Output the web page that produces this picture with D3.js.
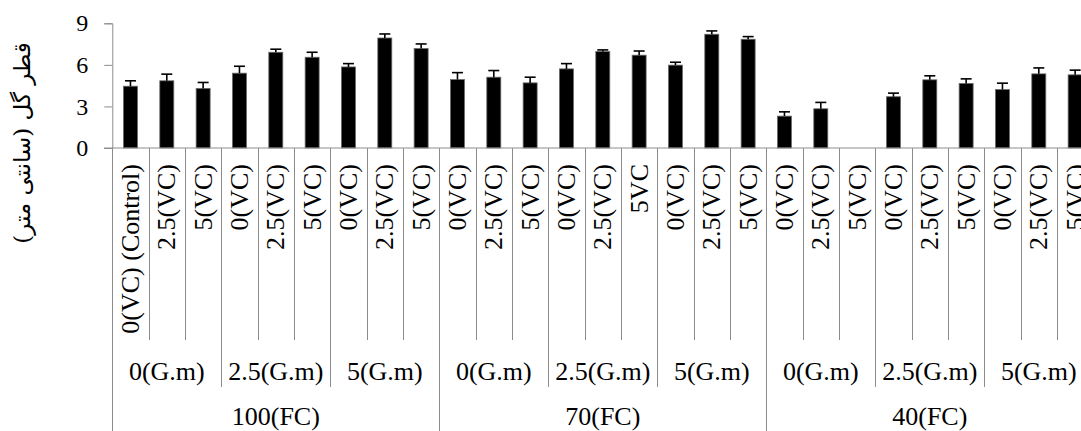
<!DOCTYPE html>
<html><head><meta charset="utf-8">
<script src="https://cdn.jsdelivr.net/npm/d3@7"></script>
<style>body{margin:0;background:#fff}svg{display:block}</style>
</head><body>
<script>
const fcLevels = ["100(FC)","70(FC)","40(FC)"];
const gmLevels = ["0(G.m)","2.5(G.m)","5(G.m)"];
const vcLabels = [
 "0(VC) (Control)","2.5(VC)","5(VC)","0(VC)","2.5(VC)","5(VC)","0(VC)","2.5(VC)","5(VC)",
 "0(VC)","2.5(VC)","5(VC)","0(VC)","2.5(VC)","5VC","0(VC)","2.5(VC)","5(VC)",
 "0(VC)","2.5(VC)","5(VC)","0(VC)","2.5(VC)","5(VC)","0(VC)","2.5(VC)","5(VC)"];
const values = [4.46,4.85,4.30,5.40,6.91,6.55,5.85,7.94,7.18,
 4.94,5.11,4.70,5.71,6.96,6.70,5.98,8.21,7.85,
 2.30,2.83,0,3.70,4.92,4.66,4.22,5.35,5.28];
const errors = [0.39,0.48,0.43,0.50,0.22,0.36,0.24,0.29,0.33,
 0.50,0.48,0.41,0.38,0.12,0.30,0.21,0.24,0.19,
 0.31,0.46,0,0.26,0.29,0.33,0.46,0.43,0.34];
const yTicks = [0,3,6,9];
const yTitle = "قطر گل (سانتی متر)";

const W = 1081, H = 431;
const ids = vcLabels.map((d,i)=>i);
const pad = 0.615;
const x = d3.scaleBand().domain(ids).range([112.3, 1093.3]).paddingInner(pad).paddingOuter(pad/2);
const y = d3.scaleLinear().domain([0,9]).range([148, 23.3]);
const step = x.step();
const left = i => x(0) - step*pad/2 + i*step;

const svg = d3.select("body").append("svg").attr("width",W).attr("height",H);
const grey = "#8c8c8c";
const serif = "'Liberation Serif','Times New Roman',serif";

// y axis
const yAxis = d3.axisLeft(y).tickValues(yTicks).tickSize(8).tickPadding(16).tickFormat(d3.format("d"));
const ga = svg.append("g").attr("transform",`translate(${x.range()[0]},0)`).call(yAxis);
ga.select(".domain").attr("stroke",grey).attr("stroke-width",1);
ga.selectAll(".tick line").attr("stroke",grey);
ga.selectAll(".tick text").attr("font-family",serif).attr("font-size",24).attr("fill","#000");

// bars
svg.append("g").selectAll("rect").data(values).join("rect")
  .attr("x",(d,i)=>x(i)).attr("width",x.bandwidth())
  .attr("y",d=>y(d)).attr("height",d=>y(0)-y(d))
  .attr("fill","#000").attr("stroke","#6a6a6a").attr("stroke-width",0.8);

// error bars
const eb = svg.append("g").attr("stroke","#000").attr("stroke-width",1.6);
values.forEach((v,i)=>{
  if(!errors[i]) return;
  const cx = x(i)+x.bandwidth()/2;
  eb.append("line").attr("x1",cx).attr("x2",cx).attr("y1",y(v)).attr("y2",y(v+errors[i]));
  eb.append("line").attr("x1",cx-5.5).attr("x2",cx+5.5).attr("y1",y(v+errors[i])).attr("y2",y(v+errors[i]));
});

// x axis baseline
svg.append("line").attr("x1",104).attr("x2",W).attr("y1",y(0)).attr("y2",y(0)).attr("stroke",grey).attr("stroke-width",1);

// separators
const sep = svg.append("g").attr("stroke",grey).attr("stroke-width",1);
for(let i=0;i<=vcLabels.length;i++){
  const xx = Math.round(left(i))+0.5;
  let y2 = 340;
  if(i%3===0) y2 = 387;
  if(i%9===0) y2 = H;
  sep.append("line").attr("x1",xx).attr("x2",xx).attr("y1",y(0)).attr("y2",y2);
}

// level-1 labels (rotated)
svg.append("g").selectAll("text").data(vcLabels).join("text")
  .attr("transform",(d,i)=>`translate(${x(i)+x.bandwidth()/2},164) rotate(-90)`)
  .attr("text-anchor","end").attr("dy","0.33em")
  .attr("font-family",serif).attr("font-size",26).text(d=>d);

// level-2 labels
const gm = [];
fcLevels.forEach((f,fi)=>gmLevels.forEach((g,gi)=>gm.push({label:g,start:fi*9+gi*3})));
svg.append("g").selectAll("text").data(gm).join("text")
  .attr("x",d=>(left(d.start)+left(d.start+3))/2).attr("y",380)
  .attr("text-anchor","middle").attr("font-family",serif).attr("font-size",26).text(d=>d.label);

// level-3 labels
svg.append("g").selectAll("text").data(fcLevels).join("text")
  .attr("x",(d,i)=>(left(i*9)+left(i*9+9))/2).attr("y",425)
  .attr("text-anchor","middle").attr("font-family",serif).attr("font-size",26).text(d=>d);

// y title
svg.append("text").attr("transform","translate(22,143) rotate(-90)")
  .attr("text-anchor","middle").attr("dy","0.35em")
  .attr("font-family","'DejaVu Serif','DejaVu Sans',serif").attr("font-size",23).attr("direction","rtl")
  .text(yTitle);
</script>
</body></html>
